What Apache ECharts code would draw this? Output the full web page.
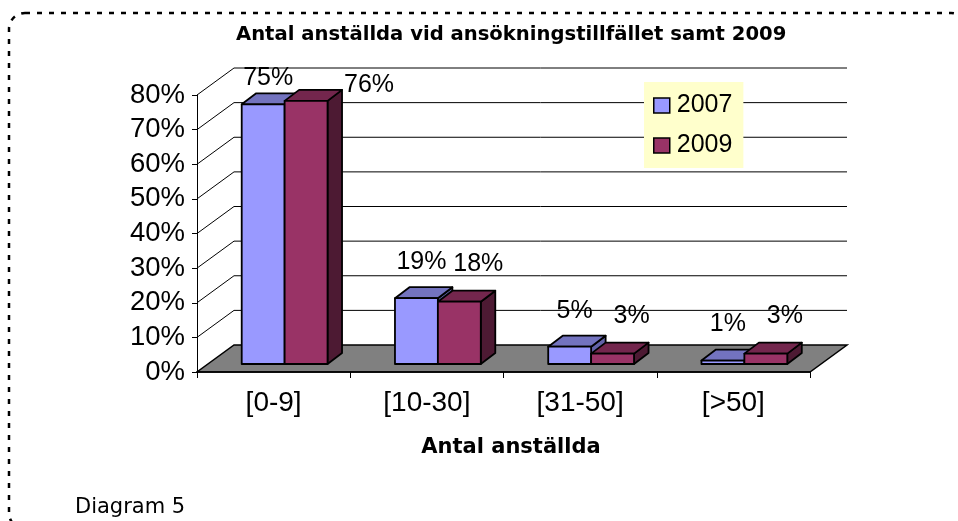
<!DOCTYPE html>
<html>
<head>
<meta charset="utf-8">
<script src="https://cdn.jsdelivr.net/npm/echarts@6/dist/echarts.min.js"></script>
<style>
  html, body { margin: 0; padding: 0; background: #ffffff; }
  #chart { width: 958px; height: 521px; }
</style>
</head>
<body>
<div id="chart"></div>
<script>
// ---- data ----
var categories = ['[0-9]', '[10-30]', '[31-50]', '[>50]'];
var seriesNames = ['2007', '2009'];
var values2007 = [75, 19, 5, 1];
var values2009 = [76, 18, 3, 3];
var yTicks = [0, 10, 20, 30, 40, 50, 60, 70, 80];
var chartTitle = 'Antal anställda vid ansökningstillfället samt 2009';
var xAxisTitle = 'Antal anställda';
var footnote = 'Diagram 5';

// ---- style ----
var WALL = [37, -27];        // depth of the floor / back wall
var BAR_FRONT = [11, -8];    // where the bars' front faces sit
var BAR_DEPTH = [14.5, -11]; // depth of each bar
var BAR_START = 0.22, BAR_W = 0.28;
var colors = {
  '2007': { front: '#9999FF', top: '#7373BF', side: '#6262A8' },
  '2009': { front: '#993366', top: '#73264D', side: '#4D1A33' }
};
var FONT = 'Liberation Sans, Arial, sans-serif';

var chart = echarts.init(document.getElementById('chart'));

function wallsRender(params, api) {
  var v = api.value(0);
  var fl = api.coord([0, v]);
  var fr = api.coord([categories.length, v]);
  var children = [];
  if (v === yTicks[0]) {
    children.push({
      type: 'polygon',
      shape: { points: [fl, fr, [fr[0] + WALL[0], fr[1] + WALL[1]], [fl[0] + WALL[0], fl[1] + WALL[1]]] },
      style: { fill: '#808080', stroke: '#000', lineWidth: 1.5 }
    });
  } else {
    children.push({
      type: 'polyline',
      shape: { points: [fl, [fl[0] + WALL[0], fl[1] + WALL[1]], [fr[0] + WALL[0], fr[1] + WALL[1]]] },
      style: { fill: null, stroke: '#000', lineWidth: 1 }
    });
  }
  return { type: 'group', children: children };
}

function makeBarRender(s) {
  var name = seriesNames[s];
  var c = colors[name];
  return function (params, api) {
    var i = api.value(0);
    var v = api.value(1);
    var a = api.coord([i + BAR_START + s * BAR_W, 0]);
    var b = api.coord([i + BAR_START + (s + 1) * BAR_W, v]);
    var x0 = a[0] + BAR_FRONT[0], x1 = b[0] + BAR_FRONT[0];
    var yb = a[1] + BAR_FRONT[1], yt = b[1] + BAR_FRONT[1];
    var dx = BAR_DEPTH[0], dy = BAR_DEPTH[1];
    var st = { stroke: '#000', lineWidth: 1.8, lineJoin: 'round' };
    var children = [
      { type: 'polygon', shape: { points: [[x1, yt], [x1 + dx, yt + dy], [x1 + dx, yb + dy], [x1, yb]] },
        style: Object.assign({ fill: c.side }, st) },
      { type: 'polygon', shape: { points: [[x0, yt], [x0 + dx, yt + dy], [x1 + dx, yt + dy], [x1, yt]] },
        style: Object.assign({ fill: c.top }, st) },
      { type: 'polygon', shape: { points: [[x0, yt], [x1, yt], [x1, yb], [x0, yb]] },
        style: Object.assign({ fill: c.front }, st) }
    ];
    // data label
    var cx = (x0 + x1) / 2 + (s === 0 ? 5 : 19);
    var cy = yt - (s === 0 ? 36 : 38);
    var minY = api.coord([0, yTicks[yTicks.length - 1]])[1] - 17;
    var align = 'center';
    if (cy < minY) {
      if (s === 0) { cy = minY; }
      else { cx = x1 + dx + 2; cy = yt + dy - 5; align = 'left'; }
    }
    children.push({
      type: 'text',
      style: { text: v + '%', x: cx, y: cy, align: align, verticalAlign: 'middle',
               font: '25px ' + FONT, fill: '#000' }
    });
    return { type: 'group', children: children };
  };
}

var option = {
  animation: false,
  backgroundColor: '#ffffff',
  title: {
    text: chartTitle,
    left: 231, top: 20,
    textStyle: { fontFamily: 'DejaVu Sans', fontWeight: 'bold', fontSize: 19.6, color: '#000' }
  },
  legend: {
    orient: 'vertical',
    left: 644, top: 82,
    padding: [11, 11, 10, 9],
    itemGap: 15,
    itemWidth: 16, itemHeight: 15,
    backgroundColor: '#FFFFCC',
    data: seriesNames.map(function (n) {
      return { name: n, icon: 'rect', itemStyle: { color: colors[n].front, borderColor: '#000', borderWidth: 1.5 } };
    }),
    textStyle: { fontFamily: FONT, fontSize: 25, color: '#000', padding: [0, 0, 0, 2] }
  },
  grid: { left: 197, right: 148, top: 95, bottom: 149, containLabel: false },
  xAxis: [
    {
      type: 'category', data: categories, boundaryGap: true, z: 5,
      axisLine: { lineStyle: { color: '#000', width: 1.5 } },
      axisTick: { show: true, length: 6, lineStyle: { color: '#000' } },
      axisLabel: { fontFamily: FONT, fontSize: 28, color: '#000', margin: 17 },
      name: xAxisTitle, nameLocation: 'middle', nameGap: 65,
      nameTextStyle: { fontFamily: 'DejaVu Sans', fontWeight: 'bold', fontSize: 21, color: '#000', padding: [0, 0, 0, 15] },
      splitLine: { show: false }
    },
    { type: 'value', min: 0, max: categories.length, show: false }
  ],
  yAxis: {
    type: 'value', min: 0, max: 80, interval: 10,
    axisLine: { show: true, lineStyle: { color: '#000', width: 1 } },
    axisTick: { show: true, length: 5, lineStyle: { color: '#000' } },
    axisLabel: { formatter: '{value}%', fontFamily: FONT, fontSize: 27.5, color: '#000', margin: 12 },
    splitLine: { show: false }
  },
  series: [
    {
      type: 'custom', name: 'walls', xAxisIndex: 1, yAxisIndex: 0, z: 1, silent: true,
      renderItem: wallsRender,
      data: yTicks.map(function (t) { return [t]; }),
      encode: { y: 0 }
    },
    {
      type: 'custom', name: seriesNames[0], xAxisIndex: 1, yAxisIndex: 0, z: 2,
      itemStyle: { color: colors['2007'].front },
      renderItem: makeBarRender(0),
      data: values2007.map(function (v, i) { return [i, v]; }),
      encode: { x: 0, y: 1 }
    },
    {
      type: 'custom', name: seriesNames[1], xAxisIndex: 1, yAxisIndex: 0, z: 3,
      itemStyle: { color: colors['2009'].front },
      renderItem: makeBarRender(1),
      data: values2009.map(function (v, i) { return [i, v]; }),
      encode: { x: 0, y: 1 }
    }
  ],
  graphic: [
    {
      type: 'rect', z: 100, silent: true,
      shape: { x: 9, y: 13, width: 958, height: 516, r: 16 },
      style: { fill: null, stroke: '#000', lineWidth: 2.5, lineDash: [5, 7] }
    },
    {
      type: 'text', left: 75, top: 497, z: 100,
      style: { text: footnote, font: '21px DejaVu Sans', fill: '#000' }
    }
  ]
};
chart.setOption(option);
</script>
</body>
</html>
